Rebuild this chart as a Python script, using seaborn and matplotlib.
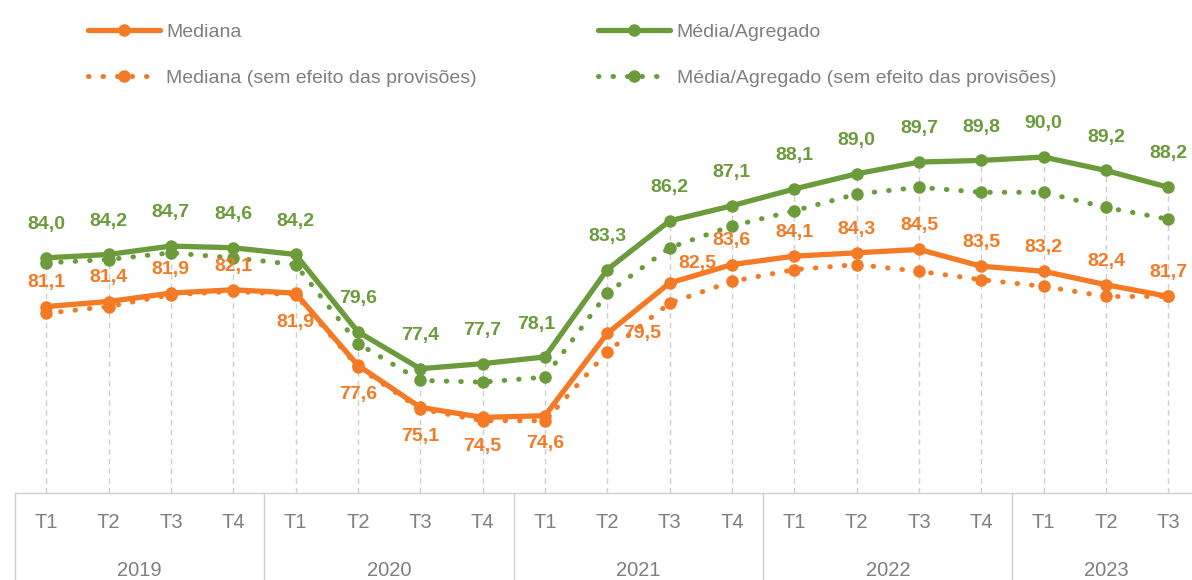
import pandas as pd
import matplotlib.pyplot as plt
import seaborn as sns
from matplotlib.lines import Line2D
import matplotlib.transforms as mtransforms

# --- DATEN ---
anos = ["2019", "2020", "2021", "2022", "2023"]
trimestres = ["T1", "T2", "T3", "T4"] * 4 + ["T1", "T2", "T3"]

mediana = [81.1, 81.4, 81.9, 82.1, 81.9, 77.6, 75.1, 74.5, 74.6, 79.5,
           82.5, 83.6, 84.1, 84.3, 84.5, 83.5, 83.2, 82.4, 81.7]
media = [84.0, 84.2, 84.7, 84.6, 84.2, 79.6, 77.4, 77.7, 78.1, 83.3,
         86.2, 87.1, 88.1, 89.0, 89.7, 89.8, 90.0, 89.2, 88.2]
mediana_sp = [80.7, 81.1, 81.8, 82.0, 81.8, 77.5, 75.0, 74.3, 74.3, 78.4,
              81.3, 82.6, 83.3, 83.6, 83.2, 82.7, 82.3, 81.7, 81.7]
media_sp = [83.7, 83.9, 84.3, 84.0, 83.6, 78.9, 76.7, 76.6, 76.9, 81.9,
            84.6, 85.9, 86.8, 87.8, 88.2, 87.9, 87.9, 87.0, 86.3]

LARANJA = "#F47A25"
VERDE = "#6B9B3A"
CINZA = "#7F7F7F"
PONTILHADO = (0, (0.1, 2.8))

sns.set_theme(style="white")
plt.rcParams['font.family'] = ['Liberation Sans', 'DejaVu Sans']

x = list(range(len(mediana)))
df = pd.DataFrame({"x": x, "mediana": mediana, "media": media,
                   "mediana_sp": mediana_sp, "media_sp": media_sp})

fig = plt.figure(figsize=(11.92, 5.8), dpi=100)
ax = fig.add_axes([0.0126, 0.15, 0.9874, 0.669])

# linhas de chamada verticais
topo = [max(a, b, c, d) for a, b, c, d in zip(mediana, media, mediana_sp, media_sp)]
ax.vlines(x, 70, topo, colors="#D0D0D0", linestyles=(0, (4, 3)), linewidth=1, zorder=0)

estilo_sp = dict(linewidth=3.6, linestyle=PONTILHADO, dash_capstyle="round", marker="o",
                 markersize=9, markeredgewidth=0, zorder=2)
estilo = dict(linewidth=3.8, marker="o", markersize=9, markeredgewidth=0, zorder=3)

sns.lineplot(data=df, x="x", y="mediana_sp", ax=ax, color=LARANJA, **estilo_sp)
sns.lineplot(data=df, x="x", y="media_sp", ax=ax, color=VERDE, **estilo_sp)
sns.lineplot(data=df, x="x", y="mediana", ax=ax, color=LARANJA, **estilo)
sns.lineplot(data=df, x="x", y="media", ax=ax, color=VERDE, **estilo)

# rótulos de dados
def fmt(v):
    return f"{v:.1f}".replace(".", ",")

off_verde = {8: (-6, 23)}
for i, v in enumerate(media):
    dx, dy = off_verde.get(i, (0, 24))
    ax.annotate(fmt(v), (i, v), xytext=(dx, dy), textcoords="offset points",
                ha="center", va="center", color=VERDE, fontsize=14, fontweight="bold")

off_laranja = {4: (0, -21), 5: (0, -21), 6: (0, -21), 7: (0, -21), 8: (0, -20),
               9: (25, 0), 10: (20, 14)}
for i, v in enumerate(mediana):
    dx, dy = off_laranja.get(i, (0, 17))
    ax.annotate(fmt(v), (i, v), xytext=(dx, dy), textcoords="offset points",
                ha="center", va="center", color=LARANJA, fontsize=14, fontweight="bold")

ax.set_xlim(-0.5, 18.38)
ax.set_ylim(70, 93.1)
ax.set_xticks([])
ax.set_yticks([])
ax.set_xlabel("")
ax.set_ylabel("")
for s in ["top", "right", "left"]:
    ax.spines[s].set_visible(False)
ax.spines["bottom"].set_color("#D0D0D0")
ax.spines["bottom"].set_linewidth(1)

# eixo de categorias (trimestres e anos)
trans = mtransforms.blended_transform_factory(ax.transData, ax.transAxes)
fundo = -0.15 / 0.669
for i, t in enumerate(trimestres):
    ax.text(i, -0.05 / 0.669, t, transform=trans, ha="center", va="center",
            color=CINZA, fontsize=14.5)
for k, ano in enumerate(anos):
    ini = 4 * k
    fim = min(4 * k + 3, len(mediana) - 1)
    ax.text((ini + fim) / 2, -0.133 / 0.669, ano, transform=trans, ha="center",
            va="center", color=CINZA, fontsize=14.5)
    ax.plot([ini - 0.5, ini - 0.5], [0, fundo], transform=trans, color="#D0D0D0",
            linewidth=1, clip_on=False)

# legenda
def alca(cor, pontilhada):
    if pontilhada:
        return Line2D([], [], color=cor, linewidth=3.6, linestyle=PONTILHADO,
                      dash_capstyle="round", marker="o", markersize=9, markeredgewidth=0)
    return Line2D([], [], color=cor, linewidth=3.8, marker="o", markersize=9,
                  markeredgewidth=0)

leg_kw = dict(loc="upper left", frameon=False, fontsize=14, handlelength=3.7,
              handletextpad=0.35, labelspacing=1.45, borderaxespad=0)
leg1 = fig.legend([alca(LARANJA, False), alca(LARANJA, True)],
                  ["Mediana", "Mediana (sem efeito das provisões)"],
                  bbox_to_anchor=(0.067, 0.973), **leg_kw)
leg2 = fig.legend([alca(VERDE, False), alca(VERDE, True)],
                  ["Média/Agregado", "Média/Agregado (sem efeito das provisões)"],
                  bbox_to_anchor=(0.495, 0.973), **leg_kw)
for lg in (leg1, leg2):
    for t in lg.get_texts():
        t.set_color(CINZA)

fig.savefig("out.png", dpi=100)
